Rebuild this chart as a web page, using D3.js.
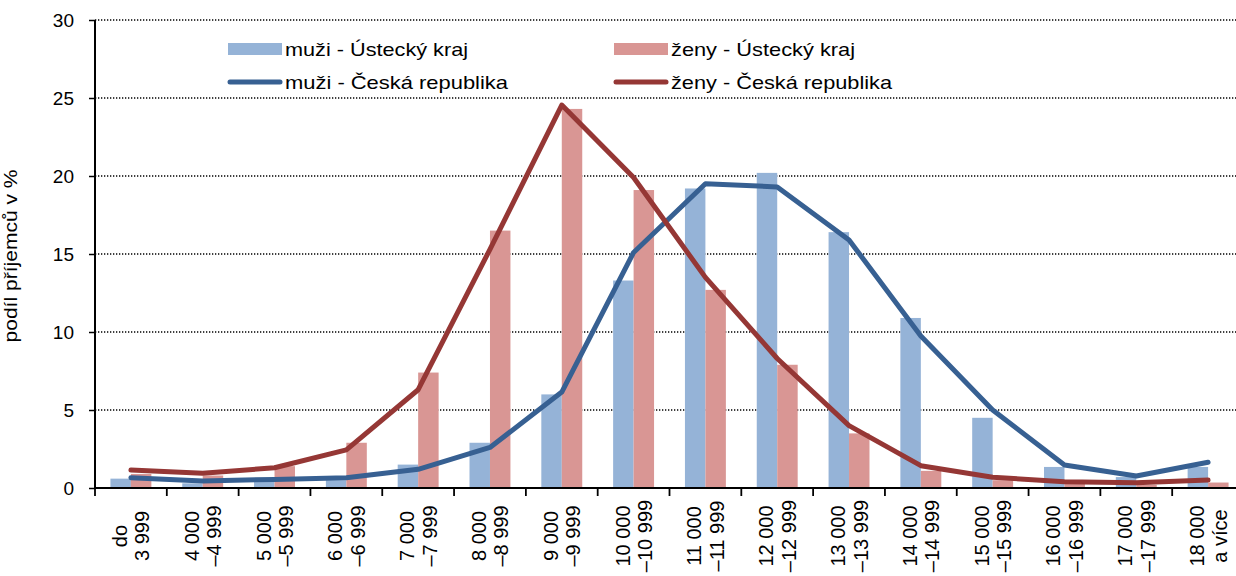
<!DOCTYPE html>
<html><head><meta charset="utf-8">
<script src="https://cdn.jsdelivr.net/npm/d3@7"></script>
<style>html,body{margin:0;padding:0;background:#fff;}svg{display:block;font-family:"Liberation Sans",Arial,sans-serif;}</style>
</head><body>
<svg id="chart" width="1236" height="576"></svg>
<script>
const categories = [
  ["do","3 999"],["4 000","–4 999"],["5 000","–5 999"],["6 000","–6 999"],
  ["7 000","–7 999"],["8 000","–8 999"],["9 000","–9 999"],["10 000","–10 999"],
  ["11 000","–11 999"],["12 000","–12 999"],["13 000","–13 999"],["14 000","–14 999"],
  ["15 000","–15 999"],["16 000","–16 999"],["17 000","–17 999"],["18 000","a více"]
];
const muziUstecky = [0.6,0.3,0.4,0.5,1.5,2.9,6.0,13.3,19.2,20.2,16.4,10.9,4.5,1.35,0.7,1.35];
const zenyUstecky = [0.9,0.8,1.4,2.9,7.4,16.5,24.3,19.1,12.7,7.9,3.5,1.1,0.5,0.3,0.2,0.35];
const muziCR = [0.66,0.45,0.55,0.66,1.2,2.6,6.15,15.1,19.5,19.3,15.9,9.75,5.0,1.47,0.77,1.65];
const zenyCR = [1.15,0.94,1.3,2.44,6.3,15.3,24.55,19.9,13.5,8.3,4.0,1.43,0.69,0.4,0.34,0.51];
const yTicks = [0,5,10,15,20,25,30];
const legendLabels = ["muži - Ústecký kraj","ženy - Ústecký kraj","muži - Česká republika","ženy - Česká republika"];
const yTitle = "podíl příjemců v %";

(function(){
const colors = {mBar:"#95B3D7", zBar:"#D99694", mLine:"#376092", zLine:"#953735"};
const svg = d3.select("#chart");
const pLeft = 95, pRight = 1244, pTop = 20, pBottom = 488;
const idx = d3.range(categories.length);
const x = d3.scaleBand().domain(idx).range([pLeft, pRight]).padding(0);
const y = d3.scaleLinear().domain([0,30]).range([pBottom, pTop]);
const groupW = x.bandwidth()*0.57;
const x1 = d3.scaleBand().domain(["m","z"]).range([0, groupW]);
const cx = i => x(i) + x.bandwidth()/2;

// gridlines
svg.append("g").selectAll("line").data(yTicks.filter(d=>d>0)).join("line")
  .attr("x1", pLeft).attr("x2", 1236).attr("y1", d=>y(d)).attr("y2", d=>y(d))
  .attr("stroke","#000").attr("stroke-width",1.3).attr("stroke-dasharray","1.3,1.7");

// bars
const bars = svg.append("g");
bars.selectAll("rect.m").data(muziUstecky).join("rect").attr("class","m")
  .attr("x",(d,i)=>cx(i)-groupW/2+x1("m")).attr("width",x1.bandwidth())
  .attr("y",d=>y(d)).attr("height",d=>pBottom-y(d)).attr("fill",colors.mBar);
bars.selectAll("rect.z").data(zenyUstecky).join("rect").attr("class","z")
  .attr("x",(d,i)=>cx(i)-groupW/2+x1("z")).attr("width",x1.bandwidth())
  .attr("y",d=>y(d)).attr("height",d=>pBottom-y(d)).attr("fill",colors.zBar);

// y axis
const yAxis = svg.append("g").attr("transform",`translate(${pLeft},0)`)
  .call(d3.axisLeft(y).tickValues(yTicks).tickSize(6).tickPadding(15));
yAxis.select(".domain").attr("stroke","#000").attr("stroke-width",2).attr("d",`M0,${pTop}V${pBottom}`);
yAxis.selectAll(".tick line").attr("stroke","#000").attr("stroke-width",1.5);
yAxis.selectAll(".tick text").attr("font-size",19).attr("fill","#000")
  .attr("font-family","Liberation Sans, Arial, sans-serif")
  .attr("dy","0.36em");

// x axis
const xAxis = svg.append("g").attr("transform",`translate(0,${pBottom})`)
  .call(d3.axisBottom(x).tickValues([]).tickSizeOuter(0));
xAxis.select(".domain").attr("stroke","#000").attr("stroke-width",2).attr("d",`M${pLeft},0H1236`);
xAxis.selectAll("line.bt").data(d3.range(categories.length+1)).join("line").attr("class","bt")
  .attr("x1",i=>pLeft+i*x.bandwidth()).attr("x2",i=>pLeft+i*x.bandwidth())
  .attr("y1",0).attr("y2",8).attr("stroke","#000").attr("stroke-width",1.8);
const labs = svg.append("g");
categories.forEach((c,i)=>{
  const g = labs.append("g").attr("transform",`translate(${cx(i)},536) rotate(-90)`);
  g.append("text").attr("text-anchor","middle").attr("x",0).attr("y",-4)
    .attr("font-size",20).attr("fill","#000").text(c[0]);
  g.append("text").attr("text-anchor","middle").attr("x",0).attr("y",18.5)
    .attr("font-size",20).attr("fill","#000").text(c[1]);
});

// lines
const line = d3.line().x((d,i)=>cx(i)).y(d=>y(d));
svg.append("path").datum(muziCR).attr("d",line).attr("fill","none")
  .attr("stroke",colors.mLine).attr("stroke-width",5).attr("stroke-linejoin","round").attr("stroke-linecap","round");
svg.append("path").datum(zenyCR).attr("d",line).attr("fill","none")
  .attr("stroke",colors.zLine).attr("stroke-width",5).attr("stroke-linejoin","round").attr("stroke-linecap","round");

// y title
svg.append("text").attr("transform","translate(17,256) rotate(-90)").attr("text-anchor","middle")
  .attr("font-size",18).attr("fill","#000").attr("textLength",173).attr("lengthAdjust","spacingAndGlyphs")
  .text(yTitle);

// legend
const leg = svg.append("g");
const legItems = [
  {label:legendLabels[0], type:"bar", color:colors.mBar, x:228, y:49, w:183},
  {label:legendLabels[1], type:"bar", color:colors.zBar, x:614, y:49, w:184},
  {label:legendLabels[2], type:"line", color:colors.mLine, x:228, y:82, w:223},
  {label:legendLabels[3], type:"line", color:colors.zLine, x:614, y:82, w:221}
];
legItems.forEach(it=>{
  if(it.type==="bar"){
    leg.append("rect").attr("x",it.x).attr("y",it.y-6).attr("width",54).attr("height",12).attr("fill",it.color);
  } else {
    leg.append("line").attr("x1",it.x+2).attr("x2",it.x+52).attr("y1",it.y).attr("y2",it.y)
      .attr("stroke",it.color).attr("stroke-width",5).attr("stroke-linecap","round");
  }
  leg.append("text").attr("x",it.x+57).attr("y",it.y).attr("dy","0.35em")
    .attr("font-size",19).attr("fill","#000").attr("textLength",it.w).attr("lengthAdjust","spacingAndGlyphs")
    .text(it.label);
});
})();
</script>
</body></html>
